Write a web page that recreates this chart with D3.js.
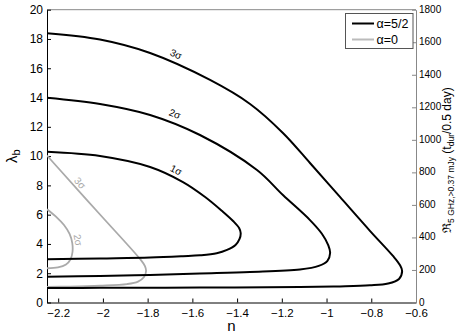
<!DOCTYPE html>
<html>
<head>
<meta charset="utf-8">
<script src="https://cdnjs.cloudflare.com/ajax/libs/d3/7.8.5/d3.min.js"></script>
<style>
  body { margin: 0; background: #fff; }
  svg { font-family: "Liberation Sans", Arial, Helvetica, sans-serif; }
</style>
</head>
<body>
<div id="chart"></div>
<script>
// тики осей
var nTicks = [-2.2, -2, -1.8, -1.6, -1.4, -1.2, -1, -0.8, -0.6];
var lambdaTicks = [0, 2, 4, 6, 8, 10, 12, 14, 16, 18, 20];
var rateTicks = [0, 200, 400, 600, 800, 1000, 1200, 1400, 1600, 1800];

var seriesNames = ["α=5/2", "α=0"];

// контуры alpha = 5/2, точки [n, lambda_b]
var black1Sigma = [[-2.25, 10.30], [-2.013, 10.01], [-1.789, 9.26], [-1.642, 8.23], [-1.543, 7.21],
  [-1.467, 6.25], [-1.418, 5.57], [-1.391, 5.09], [-1.384, 4.75], [-1.389, 4.34], [-1.407, 3.93],
  [-1.445, 3.59], [-1.491, 3.36], [-1.566, 3.22], [-1.642, 3.16], [-1.789, 3.07], [-2.013, 3.01],
  [-2.25, 2.95]];
var black2Sigma = [[-2.25, 13.99], [-2.013, 13.56], [-1.789, 12.81], [-1.566, 11.44], [-1.311, 9.05],
  [-1.195, 7.34], [-1.074, 5.63], [-1.020, 4.68], [-0.992, 3.90], [-0.984, 3.38], [-0.996, 2.85],
  [-1.035, 2.50], [-1.119, 2.25], [-1.342, 2.08], [-1.566, 1.98], [-1.789, 1.88], [-2.013, 1.81],
  [-2.25, 1.76]];
var black3Sigma = [[-2.25, 18.39], [-2.013, 17.96], [-1.789, 17.04], [-1.521, 15.20], [-1.342, 13.56],
  [-1.195, 11.58], [-1.074, 9.53], [-0.940, 7.21], [-0.805, 4.88], [-0.703, 3.18], [-0.672, 2.56],
  [-0.662, 2.15], [-0.676, 1.61], [-0.725, 1.30], [-0.806, 1.17], [-0.940, 1.10], [-1.119, 1.06],
  [-1.566, 1.02], [-2.013, 1.00], [-2.25, 0.99]];

// контуры alpha = 0
var gray2Sigma = [[-2.25, 6.37], [-2.210, 5.87], [-2.174, 5.29], [-2.149, 4.68], [-2.137, 4.06],
  [-2.136, 3.45], [-2.145, 2.94], [-2.165, 2.60], [-2.201, 2.40], [-2.25, 2.34]];
var gray3Sigma = [[-2.25, 10.04], [-2.192, 9.05], [-2.013, 6.01], [-1.834, 2.97], [-1.812, 2.49],
  [-1.807, 2.15], [-1.816, 1.74], [-1.843, 1.43], [-1.892, 1.26], [-2.013, 1.15], [-2.147, 1.09],
  [-2.25, 1.07]];

var alpha52Levels = ["1σ", "2σ", "3σ"];
var alpha52Curves = [black1Sigma, black2Sigma, black3Sigma];
var alpha52LabelAt = [[-1.673, 9.05], [-1.678, 12.88], [-1.673, 16.97]];

var alpha0Levels = ["2σ", "3σ"];
var alpha0Curves = [gray2Sigma, gray3Sigma];
var alpha0LabelAt = [[-2.111, 4.27], [-2.102, 8.16]];

var width = 463, height = 336;
var plotLeft = 47, plotRight = 416, plotTop = 9.7, plotBottom = 302.5;
var blackColor = "#000", grayColor = "#aaaaaa";

var svg = d3.select("#chart").append("svg")
  .attr("width", width)
  .attr("height", height);

var x = d3.scaleLinear().domain([-2.25, -0.6]).range([plotLeft, plotRight]);
var y = d3.scaleLinear().domain([0, 20]).range([plotBottom, plotTop]);
var yRate = d3.scaleLinear().domain([0, 1800]).range([plotBottom, plotTop]);

svg.append("clipPath").attr("id", "plot-clip")
  .append("rect")
  .attr("x", plotLeft).attr("y", plotTop)
  .attr("width", plotRight - plotLeft).attr("height", plotBottom - plotTop);

// рамка сверху серая
svg.append("line")
  .attr("x1", plotLeft).attr("x2", plotRight).attr("y1", plotTop).attr("y2", plotTop)
  .attr("stroke", "#888").attr("stroke-width", 1);

var minus = function(v) { return String(v).replace("-", "\u2212"); };

var gX = svg.append("g")
  .attr("transform", "translate(0," + plotBottom + ")")
  .call(d3.axisBottom(x).tickValues(nTicks).tickSizeInner(-4).tickSizeOuter(0)
    .tickPadding(6).tickFormat(minus));
var gY = svg.append("g")
  .attr("transform", "translate(" + plotLeft + ",0)")
  .call(d3.axisLeft(y).tickValues(lambdaTicks).tickSizeInner(-4).tickSizeOuter(0)
    .tickPadding(4));
var gR = svg.append("g")
  .attr("transform", "translate(" + plotRight + ",0)")
  .call(d3.axisRight(yRate).tickValues(rateTicks).tickSizeInner(-4).tickSizeOuter(0)
    .tickPadding(3).tickFormat(d3.format("d")));

gX.attr("font-family", null);
gY.attr("font-family", null);
gR.attr("font-family", null);
gX.selectAll("text").attr("font-size", 11.5).attr("fill", "#000");
gY.selectAll("text").attr("font-size", 12).attr("fill", "#000");
gR.selectAll("text").attr("font-size", 10).attr("fill", "#000").attr("dy", "0.25em");
gX.select(".domain").attr("stroke", "#000");
gY.select(".domain").attr("stroke", "#000");
gR.select(".domain").attr("stroke", "#888");
gR.selectAll(".tick line").attr("stroke", "#888");

// кривые
var line = d3.line()
  .x(function(d) { return x(d[0]); })
  .y(function(d) { return y(d[1]); })
  .curve(d3.curveCatmullRom.alpha(0.5));

var plot = svg.append("g").attr("clip-path", "url(#plot-clip)");

function drawSet(curves, color, widthPx) {
  return curves.map(function(c) {
    return plot.append("path")
      .attr("d", line(c))
      .attr("fill", "none")
      .attr("stroke", color)
      .attr("stroke-width", widthPx)
      .node();
  });
}

var grayPaths = drawSet(alpha0Curves, grayColor, 1.8);
var blackPaths = drawSet(alpha52Curves, blackColor, 2);

// угол подписи по касательной к ближайшей точке контура
function tangentAngle(node, px, py) {
  var L = node.getTotalLength(), best = 0, bd = Infinity;
  for (var s = 0; s <= L; s += 1) {
    var p = node.getPointAtLength(s);
    var d = (p.x - px) * (p.x - px) + (p.y - py) * (p.y - py);
    if (d < bd) { bd = d; best = s; }
  }
  var a = node.getPointAtLength(Math.max(0, best - 4));
  var b = node.getPointAtLength(Math.min(L, best + 4));
  var ang = Math.atan2(b.y - a.y, b.x - a.x) * 180 / Math.PI;
  if (ang > 90) ang -= 180;
  if (ang < -90) ang += 180;
  return ang;
}

function drawLabels(levels, at, paths, color) {
  levels.forEach(function(t, i) {
    var px = x(at[i][0]), py = y(at[i][1]);
    var ang = tangentAngle(paths[i], px, py);
    svg.append("text")
      .attr("transform", "translate(" + px + "," + py + ") rotate(" + ang + ")")
      .attr("text-anchor", "middle")
      .attr("dominant-baseline", "central")
      .attr("font-size", 10)
      .attr("fill", color)
      .text(t);
  });
}

drawLabels(alpha52Levels, alpha52LabelAt, blackPaths, blackColor);
drawLabels(alpha0Levels, alpha0LabelAt, grayPaths, grayColor);

// подписи осей
svg.append("text")
  .attr("x", (plotLeft + plotRight) / 2)
  .attr("y", 331)
  .attr("text-anchor", "middle")
  .attr("font-size", 15)
  .text("n");

var yLab = svg.append("text")
  .attr("transform", "translate(16.5," + ((plotTop + plotBottom) / 2) + ") rotate(-90)")
  .attr("text-anchor", "middle")
  .attr("font-size", 15);
yLab.append("tspan").text("λ");
yLab.append("tspan").attr("font-size", 11).attr("dy", 3).text("b");

var rLab = svg.append("text")
  .attr("transform", "translate(451," + ((plotTop + plotBottom) / 2 + 4) + ") rotate(-90)")
  .attr("text-anchor", "middle")
  .attr("font-size", 12);
rLab.append("tspan").text("ℜ");
rLab.append("tspan").attr("font-size", 8.5).attr("dy", 3).text("5 GHz,>0.37 mJy");
rLab.append("tspan").attr("dy", -3).text(" (t");
rLab.append("tspan").attr("font-size", 8.5).attr("dy", 3).text("dur");
rLab.append("tspan").attr("dy", -3).text("/0.5 day)");

// легенда
var legend = svg.append("g");
legend.append("rect")
  .attr("x", 345.5).attr("y", 13.5)
  .attr("width", 67.5).attr("height", 35)
  .attr("fill", "#fff")
  .attr("stroke", "#555")
  .attr("stroke-width", 1);
var legendColors = [blackColor, "#bbbbbb"];
seriesNames.forEach(function(name, i) {
  var ly = 23.5 + i * 16;
  legend.append("line")
    .attr("x1", 352).attr("x2", 374)
    .attr("y1", ly).attr("y2", ly)
    .attr("stroke", legendColors[i])
    .attr("stroke-width", 2);
  legend.append("text")
    .attr("x", 376.5).attr("y", ly)
    .attr("dominant-baseline", "central")
    .attr("font-size", 12.5)
    .text(name);
});
</script>
</body>
</html>
